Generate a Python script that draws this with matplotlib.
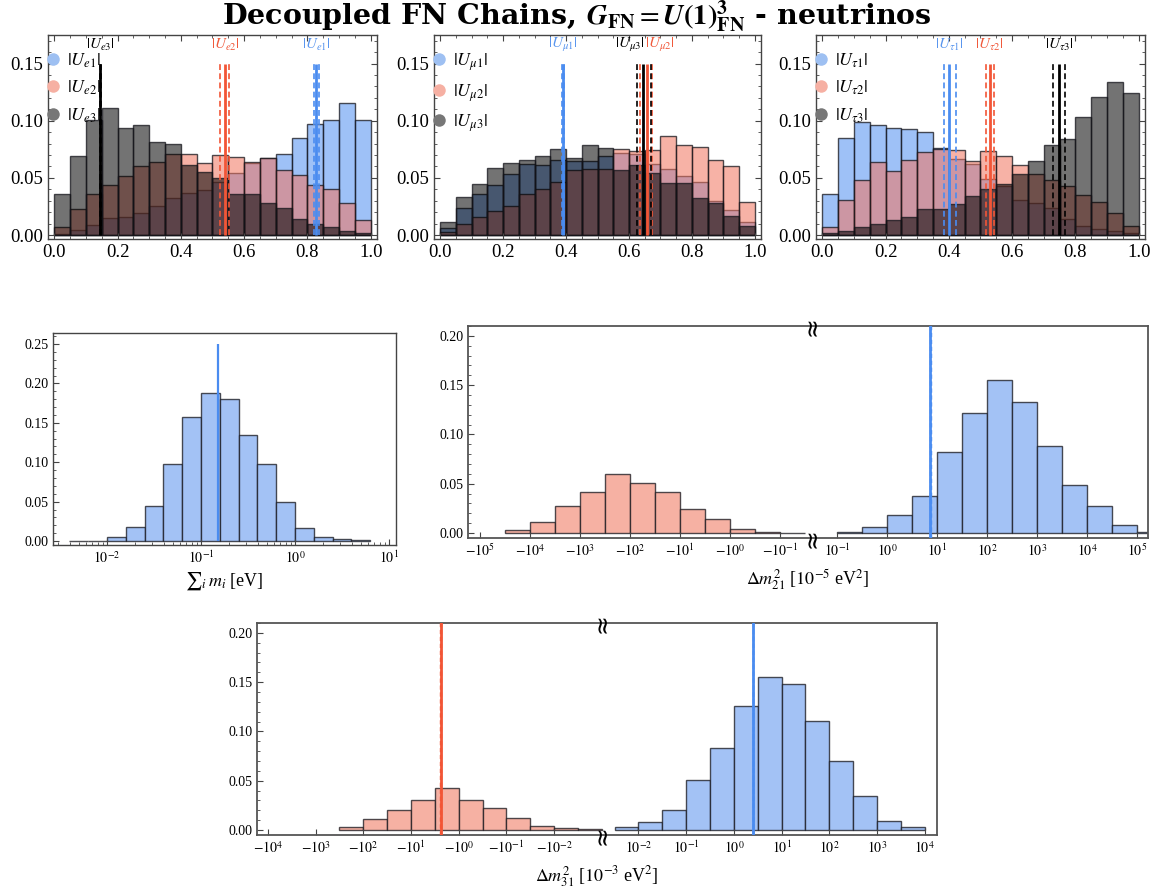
import numpy as np
import matplotlib
matplotlib.use("Agg")
import matplotlib.pyplot as plt
from matplotlib.lines import Line2D
from matplotlib.ticker import FixedLocator, MultipleLocator, NullLocator, LogLocator, FormatStrFormatter, NullFormatter
import matplotlib.transforms as mtransforms

plt.rcParams['font.family'] = ['Liberation Serif', 'DejaVu Serif']
plt.rcParams['mathtext.fontset'] = 'stix'

# ---------------- data: top row (|U| distributions) ----------------
U_bin_edges = [0.00, 0.05, 0.10, 0.15, 0.20, 0.25, 0.30, 0.35, 0.40, 0.45, 0.50,
               0.55, 0.60, 0.65, 0.70, 0.75, 0.80, 0.85, 0.90, 0.95, 1.00]

Ue1 = [0.001, 0.0045, 0.009, 0.0146, 0.0155, 0.019, 0.025, 0.032, 0.037, 0.039,
       0.046, 0.054, 0.063, 0.067, 0.071, 0.0845, 0.097, 0.1005, 0.1156, 0.1005]
Ue2 = [0.007, 0.023, 0.036, 0.044, 0.052, 0.060, 0.064, 0.0705, 0.0708, 0.063,
       0.070, 0.068, 0.064, 0.0678, 0.057, 0.0525, 0.044, 0.040, 0.0277, 0.013]
Ue3 = [0.0355, 0.069, 0.101, 0.111, 0.094, 0.096, 0.081, 0.080, 0.061, 0.055,
       0.050, 0.036, 0.036, 0.028, 0.024, 0.014, 0.010, 0.0067, 0.0035, 0.0015]

Umu1 = [0.006, 0.024, 0.036, 0.044, 0.053, 0.062, 0.061, 0.0655, 0.065, 0.0647,
        0.069, 0.072, 0.071, 0.062, 0.058, 0.052, 0.0466, 0.030, 0.022, 0.0117]
Umu2 = [0.003, 0.0093, 0.0154, 0.021, 0.025, 0.036, 0.040, 0.0466, 0.057, 0.0574,
        0.058, 0.0749, 0.0737, 0.074, 0.0865, 0.079, 0.0766, 0.0655, 0.060, 0.029]
Umu3 = [0.011, 0.033, 0.045, 0.059, 0.063, 0.066, 0.069, 0.075, 0.0676, 0.079,
        0.0763, 0.057, 0.061, 0.0545, 0.0457, 0.0457, 0.032, 0.028, 0.017, 0.0079]

Utau1 = [0.036, 0.085, 0.0985, 0.0965, 0.094, 0.093, 0.090, 0.0765, 0.0666, 0.0625,
         0.049, 0.0427, 0.031, 0.028, 0.0238, 0.0137, 0.0078, 0.0055, 0.0035, 0.0015]
Utau2 = [0.0073, 0.031, 0.0485, 0.064, 0.056, 0.066, 0.0727, 0.075, 0.0747, 0.0645,
         0.0738, 0.0689, 0.0616, 0.0538, 0.048, 0.0433, 0.035, 0.029, 0.0195, 0.0078]
Utau3 = [0.002, 0.0035, 0.0073, 0.010, 0.0128, 0.016, 0.0224, 0.0224, 0.0267, 0.034,
         0.040, 0.045, 0.0538, 0.065, 0.0785, 0.0843, 0.103, 0.1206, 0.134, 0.124]

# best-fit values [central, lower, upper]
Ue1_fit = [0.828, 0.821, 0.837]
Ue2_fit = [0.540, 0.525, 0.551]
Ue3_fit = [0.145, 0.143, 0.148]
Umu1_fit = [0.389, 0.386, 0.392]
Umu2_fit = [0.656, 0.636, 0.674]
Umu3_fit = [0.646, 0.627, 0.671]
Utau1_fit = [0.402, 0.384, 0.421]
Utau2_fit = [0.529, 0.517, 0.543]
Utau3_fit = [0.749, 0.729, 0.767]

# ---------------- data: sum of masses ----------------
summ_edge_exp = [-2.4, -2.2, -2.0, -1.8, -1.6, -1.4, -1.2, -1.0, -0.8, -0.6,
                 -0.4, -0.2, 0.0, 0.2, 0.4, 0.6, 0.8]
summ_vals = [0.0007, 0.0006, 0.005, 0.018, 0.045, 0.098, 0.158, 0.188, 0.180, 0.135,
             0.098, 0.049, 0.017, 0.005, 0.0025, 0.001]
summ_line = 0.15

# ---------------- data: Delta m^2_21 [1e-5 eV^2] ----------------
dm21_neg_edge_exp = [4.5, 4.0, 3.5, 3.0, 2.5, 2.0, 1.5, 1.0, 0.5, 0.0, -0.5, -1.0, -1.5]
dm21_neg_vals = [0.0034, 0.011, 0.027, 0.042, 0.060, 0.051, 0.042, 0.024, 0.0144,
                 0.004, 0.001, 0.0005]
dm21_pos_edge_exp = [-1.0, -0.5, 0.0, 0.5, 1.0, 1.5, 2.0, 2.5, 3.0, 3.5, 4.0, 4.5, 5.0, 5.5]
dm21_pos_vals = [0.001, 0.006, 0.018, 0.038, 0.0825, 0.122, 0.155, 0.1325, 0.088,
                 0.049, 0.027, 0.0082, 0.001]
dm21_fit = [7.40, 7.21, 7.62]

# ---------------- data: Delta m^2_31 [1e-3 eV^2] ----------------
dm31_neg_edge_exp = [2.5, 2.0, 1.5, 1.0, 0.5, 0.0, -0.5, -1.0, -1.5, -2.0, -2.5, -3.0]
dm31_neg_vals = [0.0033, 0.011, 0.020, 0.031, 0.043, 0.031, 0.022, 0.012, 0.004,
                 0.0017, 0.001]
dm31_pos_edge_exp = [-2.5, -2.0, -1.5, -1.0, -0.5, 0.0, 0.5, 1.0, 1.5, 2.0, 2.5, 3.0, 3.5, 4.0]
dm31_pos_vals = [0.003, 0.008, 0.020, 0.051, 0.083, 0.126, 0.155, 0.148, 0.111,
                 0.070, 0.035, 0.0093, 0.0033]
dm31_fit_IO = [-2.40, -2.36, -2.44]
dm31_fit_NO = [2.50, 2.47, 2.53]

# ---------------- styles ----------------
C_BLUE = (0.37, 0.60, 0.95, 0.60)
C_RED = (0.95, 0.45, 0.37, 0.55)
C_GRAY = (0.0, 0.0, 0.0, 0.55)
EDGE = (0.08, 0.08, 0.1, 0.75)
LINE_BLUE = '#4a8cf0'
LINE_RED = '#f25536'
TXT_BLUE = '#5a96ee'
TXT_RED = '#f05a3c'
SOLID_BLUE = '#a3c2f5'
SOLID_RED = '#f6b1a3'
SPINE = '#444444'

W, H = 1161, 890
fig = plt.figure(figsize=(W / 100, H / 100), dpi=100)


def px_axes(l, t, r, b):
    return fig.add_axes([l / W, 1 - b / H, (r - l) / W, (b - t) / H])


def style_spines(ax):
    for s in ax.spines.values():
        s.set_color(SPINE)
        s.set_linewidth(1.0)


def top_panel(ax, series, fits, names, label_cfg):
    edges = np.array(U_bin_edges)
    left = edges[:-1]
    width = np.diff(edges)
    for vals, col in zip(series, [C_BLUE, C_RED, C_GRAY]):
        ax.bar(left, vals, width=width, align='edge', facecolor=col,
               edgecolor=EDGE, linewidth=1.0)
    for fit, col in zip(fits, [LINE_BLUE, LINE_RED, 'black']):
        ax.vlines(fit[0], 0, 0.15, color=col, lw=2.0, zorder=5)
        ax.vlines(fit[1:], 0, 0.15, color=col, lw=1.2, linestyles=(0, (3.5, 2)), zorder=5)
    for (x, txt, col, ha) in label_cfg:
        ax.text(x, 0.1665, txt, color=col, ha=ha, va='center', fontsize=11)
    ax.set_xlim(-0.02, 1.02)
    ax.set_ylim(-0.0035, 0.175)
    ax.xaxis.set_major_locator(MultipleLocator(0.2))
    ax.xaxis.set_minor_locator(MultipleLocator(0.05))
    ax.yaxis.set_major_locator(MultipleLocator(0.05))
    ax.yaxis.set_minor_locator(MultipleLocator(0.01))
    ax.xaxis.set_major_formatter(FormatStrFormatter('%.1f'))
    ax.yaxis.set_major_formatter(FormatStrFormatter('%.2f'))
    ax.tick_params(which='both', direction='in', top=True, right=True,
                   labelsize=13.5, color=SPINE)
    ax.tick_params(which='major', length=4.5, width=0.8)
    ax.tick_params(which='minor', length=2.5, width=0.6)
    style_spines(ax)
    handles = [Line2D([], [], ls='none', marker='o', markersize=9,
                      markerfacecolor=c, markeredgecolor='none')
               for c in ['#9ec0f2', '#f6b0a3', '#777777']]
    ax.legend(handles, names, loc='upper left', bbox_to_anchor=(-0.012, 0.92),
              frameon=False, fontsize=13, handletextpad=0.25, handlelength=1.0,
              labelspacing=0.5, borderaxespad=0.0, borderpad=0.0)


ax1 = px_axes(48, 35, 377, 239)
top_panel(ax1, [Ue1, Ue2, Ue3], [Ue1_fit, Ue2_fit, Ue3_fit],
          [r'$|U_{e1}|$', r'$|U_{e2}|$', r'$|U_{e3}|$'],
          [(Ue3_fit[0], r'$|U_{e3}|$', 'black', 'center'),
           (Ue2_fit[0], r'$|U_{e2}|$', TXT_RED, 'center'),
           (Ue1_fit[0], r'$|U_{e1}|$', TXT_BLUE, 'center')])

ax2 = px_axes(434, 35, 761, 239)
top_panel(ax2, [Umu1, Umu2, Umu3], [Umu1_fit, Umu2_fit, Umu3_fit],
          [r'$|U_{\mu1}|$', r'$|U_{\mu2}|$', r'$|U_{\mu3}|$'],
          [(Umu1_fit[0], r'$|U_{\mu1}|$', TXT_BLUE, 'center'),
           (0.651, r'$|U_{\mu3}|$', 'black', 'right'),
           (0.651, r'$|U_{\mu2}|$', TXT_RED, 'left')])

ax3 = px_axes(816, 35, 1145, 239)
top_panel(ax3, [Utau1, Utau2, Utau3], [Utau1_fit, Utau2_fit, Utau3_fit],
          [r'$|U_{\tau1}|$', r'$|U_{\tau2}|$', r'$|U_{\tau3}|$'],
          [(Utau1_fit[0], r'$|U_{\tau1}|$', TXT_BLUE, 'center'),
           (Utau2_fit[0], r'$|U_{\tau2}|$', TXT_RED, 'center'),
           (Utau3_fit[0], r'$|U_{\tau3}|$', 'black', 'center')])

# ---------------- middle-left: sum m_i ----------------
ax4 = px_axes(53, 333, 396, 545)
e = 10.0 ** np.array(summ_edge_exp)
ax4.bar(e[:-1], summ_vals, width=np.diff(e), align='edge', facecolor=SOLID_BLUE,
        edgecolor=EDGE, linewidth=1.0)
ax4.set_xscale('log')
ax4.vlines(summ_line, 0, 0.25, color=LINE_BLUE, lw=1.6, zorder=5)
ax4.set_xlim(10 ** -2.574, 10 ** 1.074)
ax4.set_ylim(-0.005, 0.264)
ax4.xaxis.set_major_locator(FixedLocator([1e-2, 1e-1, 1e0, 1e1]))
ax4.set_xticklabels([r'$10^{-2}$', r'$10^{-1}$', r'$10^{0}$', r'$10^{1}$'])
ax4.xaxis.set_minor_locator(LogLocator(base=10, subs=np.arange(2, 10)))
ax4.xaxis.set_minor_formatter(NullFormatter())
ax4.yaxis.set_major_locator(MultipleLocator(0.05))
ax4.yaxis.set_minor_locator(MultipleLocator(0.01))
ax4.yaxis.set_major_formatter(FormatStrFormatter('%.2f'))
ax4.tick_params(which='both', direction='in', labelsize=10, color=SPINE)
ax4.tick_params(which='major', length=4, width=0.8)
ax4.tick_params(which='minor', length=2, width=0.6)
style_spines(ax4)
ax4.set_xlabel(r'${\sum}_i\, m_i$ [eV]', fontsize=13, labelpad=3)


# ---------------- split log axes ----------------
def split_scale(offset, brk):
    def fwd(v):
        v = np.asarray(v, dtype=float)
        a = np.log10(np.maximum(np.abs(v), 1e-300))
        return np.where(v > 0, a, -a - offset)

    def inv(u):
        u = np.asarray(u, dtype=float)
        with np.errstate(over='ignore'):
            return np.where(u > brk, 10.0 ** u, -10.0 ** (-(u + offset)))
    return fwd, inv


def split_panel(ax, offset, brk, xlim, neg_exp, neg_vals, pos_exp, pos_vals,
                neg_ticks, pos_ticks, xlabel):
    ax.set_xscale('function', functions=split_scale(offset, brk))
    ne = -10.0 ** np.array(neg_exp)
    pe = 10.0 ** np.array(pos_exp)
    ax.bar(ne[:-1], neg_vals, width=np.diff(ne), align='edge', facecolor=SOLID_RED,
           edgecolor=EDGE, linewidth=1.0)
    ax.bar(pe[:-1], pos_vals, width=np.diff(pe), align='edge', facecolor=SOLID_BLUE,
           edgecolor=EDGE, linewidth=1.0)
    ax.set_xlim(*xlim)
    ax.set_ylim(-0.005, 0.21)
    ticks = [-10.0 ** k for k in neg_ticks] + [10.0 ** k for k in pos_ticks]
    labels = [r'$-10^{%d}$' % k for k in neg_ticks] + [r'$10^{%d}$' % k for k in pos_ticks]
    ax.xaxis.set_major_locator(FixedLocator(ticks))
    ax.set_xticklabels(labels)
    ax.xaxis.set_minor_locator(NullLocator())
    ax.yaxis.set_major_locator(MultipleLocator(0.05))
    ax.yaxis.set_minor_locator(MultipleLocator(0.01))
    ax.yaxis.set_major_formatter(FormatStrFormatter('%.2f'))
    ax.tick_params(which='both', direction='in', labelsize=10, color=SPINE)
    ax.tick_params(which='major', length=4, width=0.8)
    ax.tick_params(which='minor', length=2, width=0.6)
    style_spines(ax)
    for s in ax.spines.values():
        s.set_linewidth(1.3)
        s.set_color('#555555')
    ax.set_xlabel(xlabel, fontsize=13, labelpad=6)
    # axis-break marks on top and bottom frame
    xb = split_scale(offset, brk)[1](brk)
    tr = mtransforms.blended_transform_factory(ax.transData, ax.transAxes)
    for yy in (0.0, 1.0):
        ax.text(float(xb), yy, '\u2248', rotation=90, transform=tr, ha='center',
                va='center', fontsize=17, color='black', clip_on=False,
                family='DejaVu Sans', zorder=10)


ax5 = px_axes(468, 326, 1148, 538)
split_panel(ax5, 3.14, -1.5, (-10 ** 5.24, 10 ** 5.22),
            dm21_neg_edge_exp, dm21_neg_vals, dm21_pos_edge_exp, dm21_pos_vals,
            [5, 4, 3, 2, 1, 0, -1], [-1, 0, 1, 2, 3, 4, 5],
            r'$\Delta m^2_{21}$ [$10^{-5}$ eV$^2$]')
ax5.axvline(dm21_fit[0], color=LINE_BLUE, lw=2.0, zorder=5)
for xv in dm21_fit[1:]:
    ax5.axvline(xv, color=LINE_BLUE, lw=1.0, ls=(0, (3, 2)), zorder=5)

ax6 = px_axes(257, 623, 937, 835)
split_panel(ax6, 5.77, -2.75, (-10 ** 4.23, 10 ** 4.26),
            dm31_neg_edge_exp, dm31_neg_vals, dm31_pos_edge_exp, dm31_pos_vals,
            [4, 3, 2, 1, 0, -1, -2], [-2, -1, 0, 1, 2, 3, 4],
            r'$\Delta m^2_{31}$ [$10^{-3}$ eV$^2$]')
ax6.axvline(dm31_fit_IO[0], color=LINE_RED, lw=2.0, zorder=5)
for xv in dm31_fit_IO[1:]:
    ax6.axvline(xv, color=LINE_RED, lw=1.0, ls=(0, (3, 2)), zorder=5)
ax6.axvline(dm31_fit_NO[0], color=LINE_BLUE, lw=2.0, zorder=5)
for xv in dm31_fit_NO[1:]:
    ax6.axvline(xv, color=LINE_BLUE, lw=1.0, ls=(0, (3, 2)), zorder=5)

# ---------------- title ----------------
fig.text(0.497, 1 - 24 / H,
         r'Decoupled FN Chains, $\mathbfit{G}_{\mathbf{FN}} = \mathbfit{U}\mathbf{(1)}^{\mathbf{3}}_{\mathbf{FN}}$ - neutrinos',
         ha='center', va='baseline', fontsize=20.5, weight='bold',
         family=['DejaVu Serif'])

fig.savefig('out.png', dpi=100)
